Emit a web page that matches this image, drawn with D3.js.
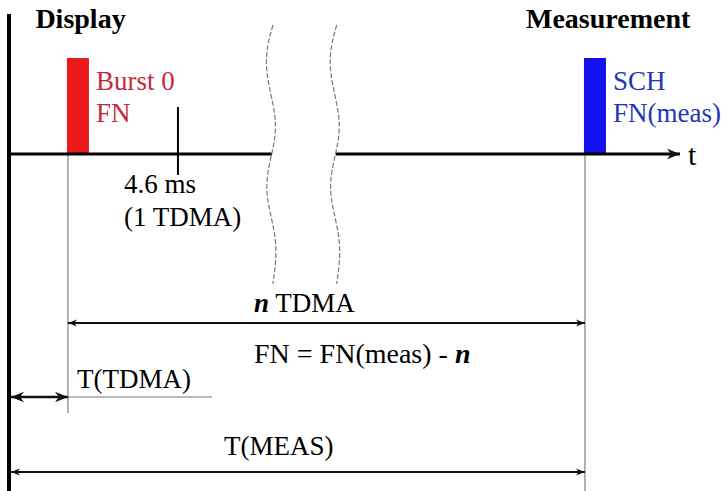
<!DOCTYPE html>
<html>
<head>
<meta charset="utf-8">
<script src="https://cdn.jsdelivr.net/npm/d3@7"></script>
<style>
  body { margin: 0; background: #fff; }
</style>
</head>
<body>
<script>
// time positions in TDMA frames (0 = display instant)
const tOrigin = 0;
const tBurst0 = 0.536;          // T(TDMA)
const tTick = tBurst0 + 1;      // 4.6 ms later
const tMeas = 5.236;            // SCH / measurement
const tAxisEnd = 6.1;

const bursts = [
  { t: tBurst0, color: '#ec1a1a', text: '#c42a38', lines: ['Burst 0', 'FN'] },
  { t: tMeas,   color: '#1212ee', text: '#2436b8', lines: ['SCH', 'FN(meas)'] }
];
const headers = [
  { t: 0.24, label: 'Display' },
  { t: 4.7, label: 'Measurement' }
];
const tickLabels = ['4.6 ms', '(1 TDMA)'];
// break in the axis (start / end of the gap)
const breaks = [2.39, 2.97];
// wave shape of the break lines: [dx in px, y in px]
const wave = [[1, 25], [-10, 65], [7, 120], [0, 154], [-9, 192], [7, 240], [1, 284]];

const w = 725;
const h = 491;
const x = d3.scaleLinear().domain([0, 1]).range([9, 119]);
const yAxis = 154;
const fs = 27;

const svg = d3.select('body').append('svg')
              .attr('width', w)
              .attr('height', h)
              .attr('font-family', '"Liberation Serif", "Times New Roman", serif');

const defs = svg.append('defs');
function marker(id, size, orient) {
  defs.append('marker')
      .attr('id', id)
      .attr('viewBox', '0 0 10 10')
      .attr('refX', 10).attr('refY', 5)
      .attr('markerWidth', size).attr('markerHeight', size)
      .attr('markerUnits', 'userSpaceOnUse')
      .attr('orient', orient)
      .append('path')
      .attr('d', 'M0,1 L10,5 L0,9 L3,5 Z')
      .attr('fill', '#111');
}
marker('arr', 9, 'auto-start-reverse');
marker('arrBig', 13, 'auto-start-reverse');

// left vertical line
svg.append('line')
   .attr('x1', x(tOrigin)).attr('x2', x(tOrigin))
   .attr('y1', 14).attr('y2', h)
   .attr('stroke', '#000').attr('stroke-width', 4);

// thin guide lines
svg.append('line')
   .attr('x1', x(tBurst0)).attr('x2', x(tBurst0))
   .attr('y1', yAxis).attr('y2', 413)
   .attr('stroke', '#666').attr('stroke-width', 1);
svg.append('line')
   .attr('x1', x(tMeas)).attr('x2', x(tMeas))
   .attr('y1', yAxis).attr('y2', h)
   .attr('stroke', '#666').attr('stroke-width', 1);

// bursts
svg.selectAll('rect.burst')
   .data(bursts)
   .enter()
   .append('rect')
   .attr('class', 'burst')
   .attr('x', d => x(d.t) - 1)
   .attr('y', 58)
   .attr('width', 22)
   .attr('height', yAxis - 58)
   .attr('fill', d => d.color);

bursts.forEach(b => {
  b.lines.forEach((l, i) => {
    svg.append('text')
       .attr('x', x(b.t) + 28)
       .attr('y', 90 + i * 32)
       .attr('fill', b.text)
       .attr('font-size', fs)
       .text(l);
  });
});

// time axis, broken
svg.append('line')
   .attr('x1', x(tOrigin)).attr('x2', x(breaks[0]))
   .attr('y1', yAxis).attr('y2', yAxis)
   .attr('stroke', '#000').attr('stroke-width', 3);
svg.append('line')
   .attr('x1', x(breaks[1])).attr('x2', x(tAxisEnd))
   .attr('y1', yAxis).attr('y2', yAxis)
   .attr('stroke', '#000').attr('stroke-width', 3)
   .attr('marker-end', 'url(#arrBig)');
svg.append('text')
   .attr('x', x(tAxisEnd) + 8).attr('y', 165)
   .attr('font-size', 30)
   .text('t');

// 1 TDMA tick
svg.append('line')
   .attr('x1', x(tTick)).attr('x2', x(tTick))
   .attr('y1', 107).attr('y2', 175)
   .attr('stroke', '#000').attr('stroke-width', 2);
tickLabels.forEach((l, i) => {
  svg.append('text')
     .attr('x', 124).attr('y', 193 + i * 33)
     .attr('font-size', fs)
     .text(l);
});

// wavy break lines
const waveLine = d3.line().curve(d3.curveBasis);
svg.selectAll('path.wave')
   .data(breaks)
   .enter()
   .append('path')
   .attr('class', 'wave')
   .attr('d', b => waveLine(wave.map(p => [x(b) + p[0], p[1]])))
   .attr('fill', 'none')
   .attr('stroke', '#777')
   .attr('stroke-width', 1.2)
   .attr('stroke-dasharray', '5,2');

// headers
svg.selectAll('text.header')
   .data(headers)
   .enter()
   .append('text')
   .attr('class', 'header')
   .attr('x', d => x(d.t))
   .attr('y', 28)
   .attr('font-size', 28)
   .attr('font-weight', 'bold')
   .text(d => d.label);

// n TDMA dimension
svg.append('line')
   .attr('x1', x(tBurst0)).attr('x2', x(tMeas))
   .attr('y1', 323).attr('y2', 323)
   .attr('stroke', '#111').attr('stroke-width', 1.8)
   .attr('marker-start', 'url(#arr)')
   .attr('marker-end', 'url(#arr)');
const nT = svg.append('text')
   .attr('x', 254).attr('y', 312)
   .attr('font-size', fs);
nT.append('tspan').attr('font-style', 'italic').attr('font-weight', 'bold').text('n');
nT.append('tspan').text(' TDMA');

const fn = svg.append('text')
   .attr('x', 254).attr('y', 363)
   .attr('font-size', 28);
fn.append('tspan').text('FN = FN(meas) - ');
fn.append('tspan').attr('font-style', 'italic').attr('font-weight', 'bold').text('n');

// T(TDMA) dimension
svg.append('line')
   .attr('x1', x(tOrigin) + 2).attr('x2', x(tBurst0))
   .attr('y1', 397).attr('y2', 397)
   .attr('stroke', '#111').attr('stroke-width', 2.5)
   .attr('marker-start', 'url(#arrBig)')
   .attr('marker-end', 'url(#arrBig)');
svg.append('line')
   .attr('x1', x(tBurst0)).attr('x2', 212)
   .attr('y1', 397).attr('y2', 397)
   .attr('stroke', '#777').attr('stroke-width', 1);
svg.append('text')
   .attr('x', 77).attr('y', 388)
   .attr('font-size', fs)
   .text('T(TDMA)');

// T(MEAS) dimension
svg.append('line')
   .attr('x1', x(tOrigin) + 2).attr('x2', x(tMeas))
   .attr('y1', 472).attr('y2', 472)
   .attr('stroke', '#111').attr('stroke-width', 1.8)
   .attr('marker-start', 'url(#arr)')
   .attr('marker-end', 'url(#arr)');
svg.append('text')
   .attr('x', 224).attr('y', 455)
   .attr('font-size', fs)
   .text('T(MEAS)');
</script>
</body>
</html>
